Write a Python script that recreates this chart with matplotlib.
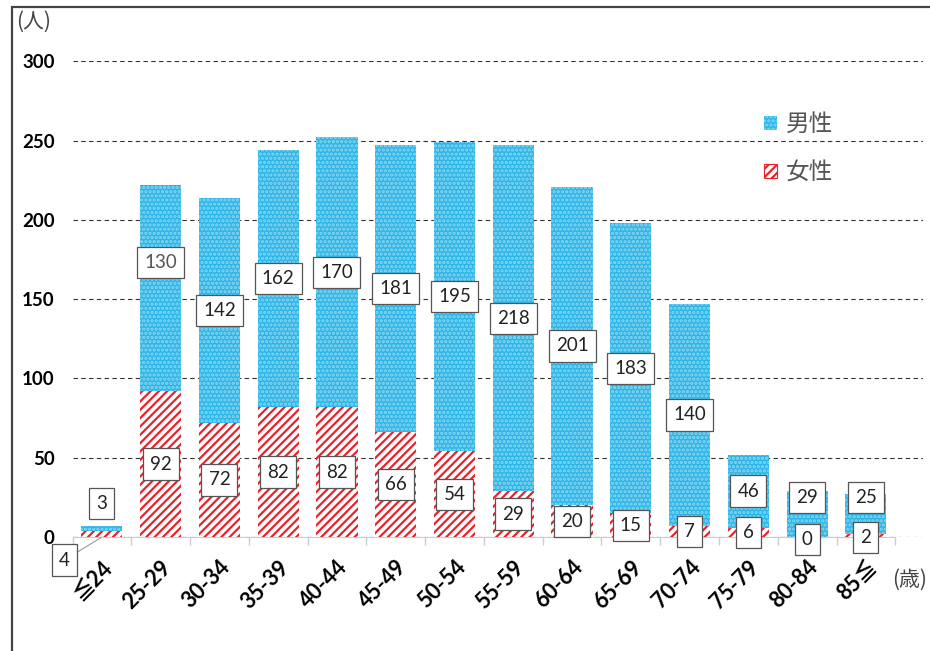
import matplotlib.pyplot as plt
from matplotlib.patches import Rectangle, Patch

plt.rcParams['font.family'] = ['Noto Sans CJK JP', 'DejaVu Sans']
plt.rcParams['hatch.linewidth'] = 1.6

categories = ['≦24', '25-29', '30-34', '35-39', '40-44', '45-49', '50-54',
              '55-59', '60-64', '65-69', '70-74', '75-79', '80-84', '85≦']
male = [3, 130, 142, 162, 170, 181, 195, 218, 201, 183, 140, 46, 29, 25]
female = [4, 92, 72, 82, 82, 66, 54, 29, 20, 15, 7, 6, 0, 2]
yticks = [0, 50, 100, 150, 200, 250, 300]

num_font = ['Lato', 'Noto Sans CJK JP', 'DejaVu Sans']
male_color = '#2db5e6'
male_dots = '#8ad6f3'
female_color = '#e8232a'
box = dict(boxstyle='square,pad=0.38', fc='white', ec='#555555', lw=0.9)

fig = plt.figure(figsize=(9.3, 6.51), dpi=100)
ax = fig.add_axes([0.078, 0.175, 0.915, 0.731])

x = list(range(len(categories)))
ax.bar(x, female, width=0.70, color='white', edgecolor=female_color,
       hatch='////', linewidth=0, zorder=3)
ax.bar(x, male, width=0.70, bottom=female, color=male_color,
       edgecolor=male_dots, hatch='....', linewidth=0, zorder=3)

# value labels
lab = dict(ha='center', va='center', fontsize=13.5, family=num_font,
           color='#222222', bbox=box, zorder=5)
for i in x:
    f, m = female[i], male[i]
    if i == 0:
        my = f + m + 14
        ax.annotate(str(f), xy=(i, 0), xytext=(i - 0.64, -14.5),
                    arrowprops=dict(arrowstyle='-', color='#999999', lw=0.8,
                                    shrinkA=0, shrinkB=0), **lab)
    else:
        my = f + m / 2
        if i == 1:
            my = 173
        elif i >= 12:
            my = 25
        fy = f / 2 if f >= 4 else f / 2 - 1.5
        ax.text(i, fy, str(f), **lab)
    ax.text(i, my, str(m), **dict(lab, color='#555555' if i == 1 else '#222222'))

ax.set_ylim(0, 300)
ax.set_xlim(-0.5, 13.98)
ax.set_yticks(yticks)
ax.set_yticklabels([str(v) for v in yticks], fontsize=13.5, fontweight='bold',
                   family=num_font)
ax.tick_params(axis='y', length=0, pad=13)
ax.yaxis.grid(True, linestyle=(0, (4, 3)), color='#333333', lw=0.8, zorder=0)

ax.set_xticks(x)
ax.set_xticklabels(categories, rotation=45, ha='right', rotation_mode='anchor',
                   fontsize=15.5, fontweight='bold', family=num_font)
ax.tick_params(axis='x', length=0, pad=14)
ax.set_xticks([i - 0.5 for i in range(len(categories) + 1)], minor=True)
ax.tick_params(axis='x', which='minor', length=6, color='#cccccc', width=1)

for s in ['top', 'right', 'left']:
    ax.spines[s].set_visible(False)
ax.spines['bottom'].set_color('#cccccc')
ax.spines['bottom'].set_bounds(-0.5, 13.5)

fig.legend(handles=[Patch(facecolor=male_color, edgecolor=male_dots, hatch='....', lw=0),
                    Patch(facecolor='white', edgecolor=female_color, hatch='////', lw=0.8)],
           labels=['男性', '女性'], loc='upper left', bbox_to_anchor=(0.822, 0.826),
           frameon=False, fontsize=17, handlelength=0.55, handleheight=0.55,
           labelspacing=1.05, handletextpad=0.35, borderpad=0, borderaxespad=0,
           labelcolor='#555555')

fig.text(0.036, 0.966, '(人)', fontsize=15, color='#444444', ha='center', va='center')
fig.text(0.997, 0.109, '(歳)', fontsize=15, color='#444444', ha='right', va='center')

fig.patches.append(Rectangle((0.013, -0.02), 0.99, 1.01, transform=fig.transFigure,
                             fill=False, ec='#444444', lw=1.6))

fig.savefig('out.png', dpi=100)
